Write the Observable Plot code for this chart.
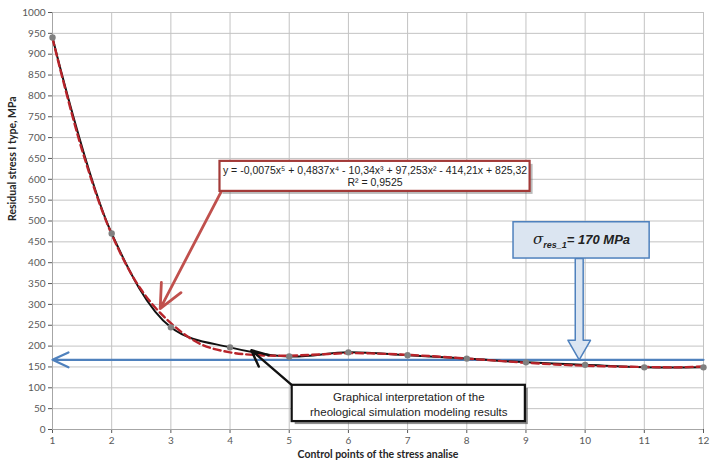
<!DOCTYPE html>
<html>
<head>
<meta charset="utf-8">
<script src="https://cdn.jsdelivr.net/npm/d3@7"></script>
<script src="https://cdn.jsdelivr.net/npm/@observablehq/plot@0.6"></script>
<style>
  html, body { margin: 0; padding: 0; background: #fff; }
  #chart svg { display: block; }
</style>
</head>
<body>
<div id="chart"></div>
<script>
// ---- data ----
const controlPoints = [1, 2, 3, 4, 5, 6, 7, 8, 9, 10, 11, 12];
const residualStress = [940, 470, 245, 197, 175, 185, 178, 170, 161, 155, 149, 149];

const trendX = [1, 1.5, 2, 2.5, 3, 3.5, 4, 4.5, 5, 5.5, 6, 6.5, 7, 7.5, 8, 8.5, 9, 9.5, 10, 10.5, 11, 11.5, 12];
const trendY = [938, 670, 468, 335, 255, 205, 185, 178, 177, 180, 183, 182, 179, 175, 170, 165, 160, 156, 153, 151, 150, 149, 151];

const xTicks = [1, 2, 3, 4, 5, 6, 7, 8, 9, 10, 11, 12];
const yTicks = [0, 50, 100, 150, 200, 250, 300, 350, 400, 450, 500, 550, 600, 650, 700, 750, 800, 850, 900, 950, 1000];

const xTitle = "Control points of the stress analise";
const yTitle = "Residual stress I type, MPa";

const resStress = 167; // level of the blue reference line
const sigmaParts = ["σ", "res_1", "= 170 MPa"];
const equationText = "y = -0,0075x⁵ + 0,4837x⁴ - 10,34x³ + 97,253x² - 414,21x + 825,32\nR² = 0,9525";
const noteText = "Graphical interpretation of the\nrheological simulation modeling results";

// ---- annotation geometry (data units) ----
const eqBox = {x1: 3.83, x2: 9.07, y1: 571, y2: 643, tx: 6.45, ty: 607};
const eqArrow = {x1: 3.86, y1: 573, x2: 2.82, y2: 290};
const noteBox = {x1: 5.05, x2: 8.99, y1: 19, y2: 106, tx: 7.02, ty: 61};
const noteArrow = {x1: 5.05, y1: 106, x2: 4.36, y2: 190};
const sigmaBox = {x1: 8.79, x2: 11.09, y1: 410, y2: 497, tx: 9.94, ty: 454};
const block = {x: 9.9, top: 410, headBase: 214, tip: resStress, shaftHalf: 0.067, headHalf: 0.19};
const blockPoly = [
  [block.x - block.shaftHalf, block.top],
  [block.x + block.shaftHalf, block.top],
  [block.x + block.shaftHalf, block.headBase],
  [block.x + block.headHalf, block.headBase],
  [block.x, block.tip],
  [block.x - block.headHalf, block.headBase],
  [block.x - block.shaftHalf, block.headBase]
];

const measured = controlPoints.map((x, i) => ({x, y: residualStress[i]}));
const trend = trendX.map((x, i) => ({x, y: trendY[i]}));

const chart = Plot.plot({
  width: 710,
  height: 465,
  marginLeft: 52,
  marginRight: 7,
  marginTop: 12,
  marginBottom: 36,
  style: {fontFamily: "Lato, 'Open Sans', sans-serif", fontSize: "10px", color: "#595959", background: "#fff"},
  x: {domain: [1, 12], ticks: xTicks, tickSize: 4, tickPadding: 3, tickFormat: d => String(d), label: null},
  y: {domain: [0, 1000], ticks: yTicks, tickSize: 4, tickPadding: 3, tickFormat: d => String(d), label: null},
  marks: [
    Plot.ruleX(xTicks, {stroke: "#c3c3c3", strokeWidth: 1}),
    Plot.ruleY(yTicks, {stroke: "#c3c3c3", strokeWidth: 1}),
    Plot.ruleX([1], {stroke: "#a6a6a6", strokeWidth: 1}),
    Plot.ruleY([0], {stroke: "#a6a6a6", strokeWidth: 1}),
    // blue reference line with arrow pointing to the axis
    Plot.arrow([{x1: 12, x2: 1, y: resStress}], {x1: "x1", x2: "x2", y1: "y", y2: "y", stroke: "#4f81bd", strokeWidth: 2.2, headLength: 12, headAngle: 50}),
    // measured curve
    Plot.line(measured, {x: "x", y: "y", curve: "catmull-rom", stroke: "#111", strokeWidth: 2}),
    // polynomial trend (dashed)
    Plot.line(trend, {x: "x", y: "y", curve: "catmull-rom", stroke: "#b8242b", strokeWidth: 2.4, strokeDasharray: "7,4"}),
    Plot.dot(measured, {x: "x", y: "y", r: 3.2, fill: "#808080"}),
    // equation callout
    Plot.arrow([eqArrow], {x1: "x1", y1: "y1", x2: "x2", y2: "y2", stroke: "#c0504d", strokeWidth: 2.8, headLength: 14, headAngle: 50}),
    Plot.rect([eqBox], {x1: "x1", x2: "x2", y1: "y1", y2: "y2", fill: "#666", fillOpacity: 0.45, dx: 3, dy: 3}),
    Plot.rect([eqBox], {x1: "x1", x2: "x2", y1: "y1", y2: "y2", fill: "white", stroke: "#a33a38", strokeWidth: 2.2}),
    Plot.text([eqBox], {x: "tx", y: "ty", text: () => equationText, fontFamily: "'Liberation Sans', Arial, sans-serif", fontSize: 10.5, lineHeight: 1.15, fill: "#222"}),
    // note callout
    Plot.arrow([noteArrow], {x1: "x1", y1: "y1", x2: "x2", y2: "y2", stroke: "#111", strokeWidth: 2.4, headLength: 12, headAngle: 50}),
    Plot.rect([noteBox], {x1: "x1", x2: "x2", y1: "y1", y2: "y2", fill: "#444", fillOpacity: 0.6, dx: 3, dy: 3}),
    Plot.rect([noteBox], {x1: "x1", x2: "x2", y1: "y1", y2: "y2", fill: "white", stroke: "#111", strokeWidth: 2.2}),
    Plot.text([noteBox], {x: "tx", y: "ty", text: () => noteText, fontFamily: "'Liberation Sans', Arial, sans-serif", fontSize: 11.5, lineHeight: 1.3, fill: "#222"}),
    // sigma callout with block arrow
    Plot.line(blockPoly, {x: d => d[0], y: d => d[1], curve: "linear-closed", fill: "#dbe5f1", stroke: "#4f81bd", strokeWidth: 1.5}),
    Plot.rect([sigmaBox], {x1: "x1", x2: "x2", y1: "y1", y2: "y2", fill: "#dbe5f1", stroke: "#4f81bd", strokeWidth: 1.5}),
    Plot.text([sigmaBox], {x: "tx", y: "ty", text: () => sigmaParts.join(""), fontFamily: "'Liberation Sans', Arial, sans-serif", fontSize: 13, fontWeight: "bold", fontStyle: "italic", fill: "#222"}),
    // axis titles
    Plot.text([yTitle], {frameAnchor: "left", dx: -40, rotate: -90, text: d => d, fontWeight: "bold", fontSize: 10.5, fill: "#262626"}),
    Plot.text([xTitle], {frameAnchor: "bottom", dy: 28, text: d => d, fontWeight: "bold", fontSize: 10.5, fill: "#262626"})
  ]
});

// rich formatting of the sigma label (italic symbol + subscript)
const sigmaLabel = sigmaParts.join("");
d3.select(chart).selectAll("text").filter(function() { return this.textContent === sigmaLabel; }).each(function() {
  const t = d3.select(this);
  t.selectAll("*").remove();
  t.text(null);
  t.append("tspan").attr("font-family", "'DejaVu Serif', serif").attr("font-size", 15).attr("font-weight", "normal").text(sigmaParts[0]);
  t.append("tspan").attr("font-size", 9).attr("dy", 4).text(sigmaParts[1]);
  t.append("tspan").attr("dy", -4).text(sigmaParts[2]);
});

document.getElementById("chart").appendChild(chart);
</script>
</body>
</html>
